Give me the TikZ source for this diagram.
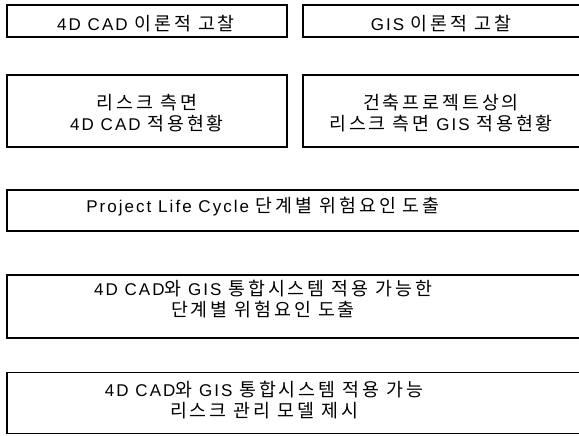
\documentclass[tikz,border=0pt]{standalone}
\usepackage{fontspec}
\setmainfont{Liberation Sans}[LetterSpace=12]
\newfontfamily\kr{Noto Sans CJK KR}[Scale=1.08,LetterSpace=16]
\begin{document}
\begin{tikzpicture}[x=1pt,y=-1pt,
  boxst/.style={draw=black,line width=1.4pt,inner sep=0pt},
  txt/.style={inner sep=0pt,align=center,font=\fontsize{17}{21.5}\selectfont}]
\useasboundingbox (0,0) rectangle (579,436);
\clip (0,0) rectangle (579,436);
% boxes (right-hand boxes run past the picture's right edge)
\node[boxst,minimum width=280,minimum height=32] (a) at (147,21) {};
\node[boxst,minimum width=300,minimum height=32] (b) at (453,21) {};
\node[boxst,minimum width=280,minimum height=72] (c) at (147,111) {};
\node[boxst,minimum width=300,minimum height=72] (d) at (453,111) {};
\node[boxst,minimum width=600,minimum height=41] (e) at (307,210.5) {};
\node[boxst,minimum width=600,minimum height=63] (f) at (307,306.5) {};
\node[boxst,minimum width=600,minimum height=61] (g) at (307,403) {};
% texts
\node[txt] (at) at (146,23.5) {4D CAD {\kr 이론적 고찰}};
\node[txt] (bt) at (441,23.5) {GIS {\kr 이론적 고찰}};
\node[txt] (ct) at (147,113) {{\kr 리스크 측면}\\4D CAD {\kr 적용현황}};
\node[txt] (dt) at (441,113) {{\kr 건축프로젝트상의}\\{\kr 리스크 측면} GIS {\kr 적용현황}};
\node[txt] (et) at (263,207) {Project Life Cycle {\kr 단계별 위험요인 도출}};
\node[txt] (ft) at (263,299) {4D CAD{\kr 와} GIS {\kr 통합시스템 적용 가능한}\\{\kr 단계별 위험요인 도출}};
\node[txt] (gt) at (264,400) {4D CAD{\kr 와} GIS {\kr 통합시스템 적용 가능}\\{\kr 리스크 관리 모델 제시}};
\end{tikzpicture}
\end{document}
